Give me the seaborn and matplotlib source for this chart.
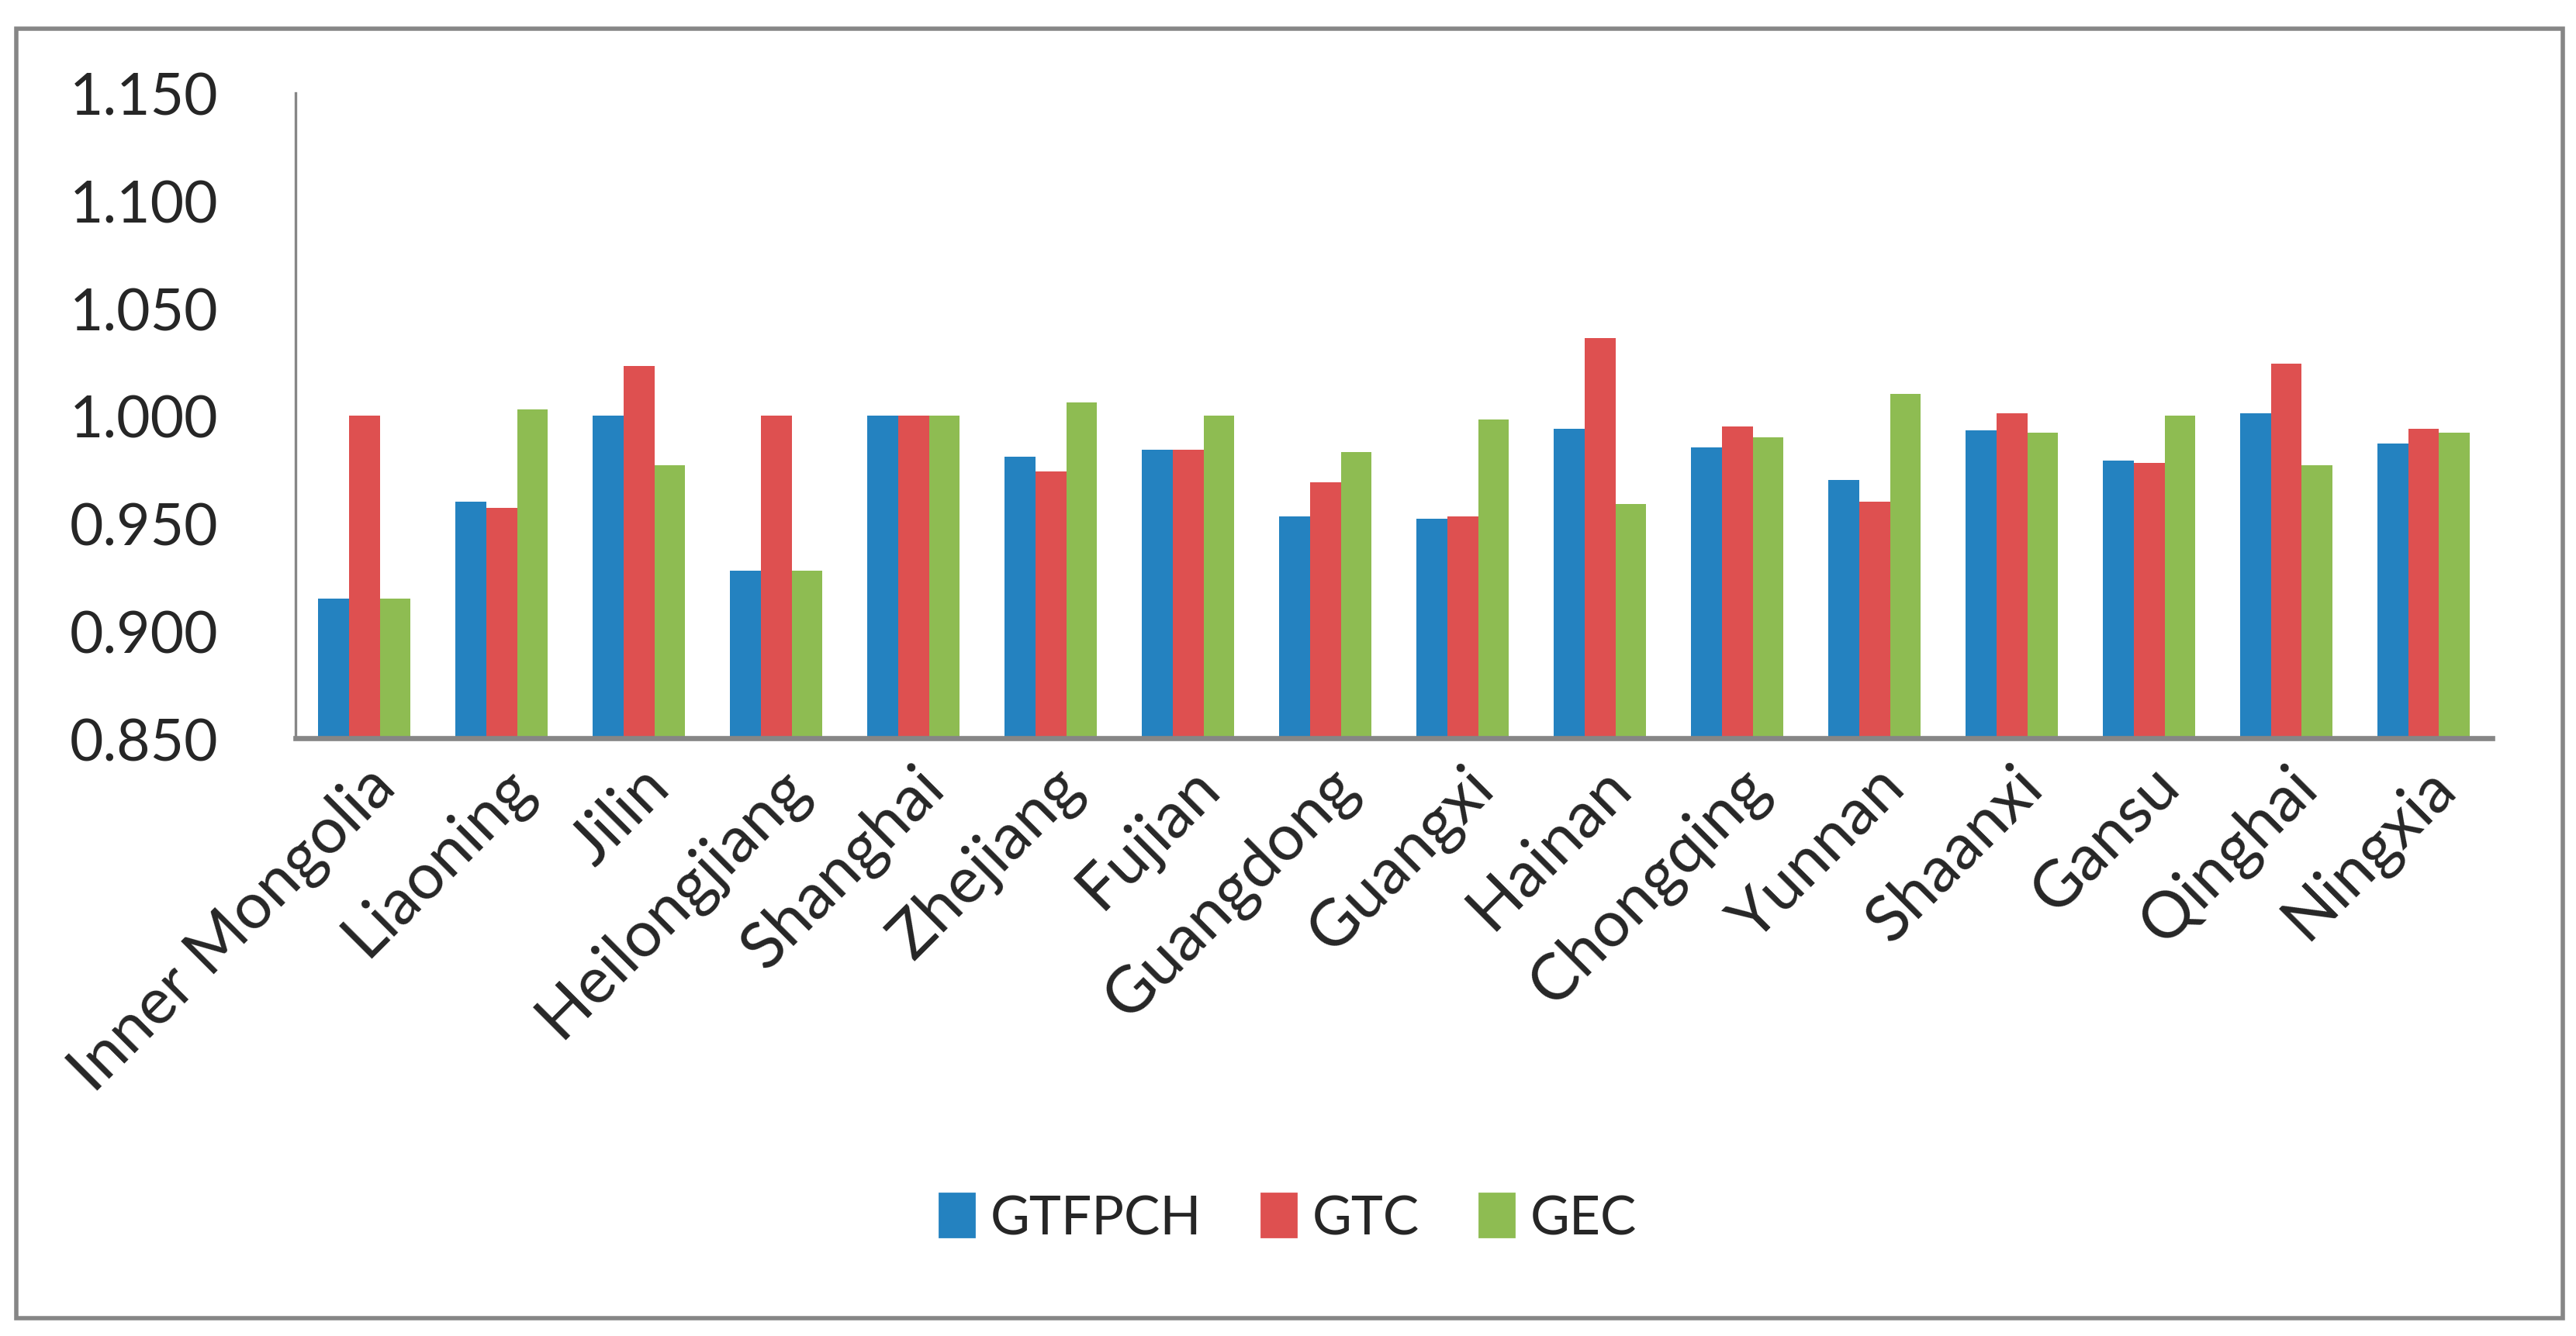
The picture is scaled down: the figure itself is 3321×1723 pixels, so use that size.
import matplotlib
matplotlib.use('Agg')
import matplotlib.pyplot as plt
import numpy as np
import pandas as pd
import seaborn as sns
from matplotlib.patches import Rectangle

provinces = ['Inner Mongolia', 'Liaoning', 'Jilin', 'Heilongjiang', 'Shanghai', 'Zhejiang',
             'Fujian', 'Guangdong', 'Guangxi', 'Hainan', 'Chongqing', 'Yunnan', 'Shaanxi',
             'Gansu', 'Qinghai', 'Ningxia']
gtfpch = [0.915, 0.960, 1.000, 0.928, 1.000, 0.981, 0.984, 0.953, 0.952, 0.994,
          0.985, 0.970, 0.993, 0.979, 1.001, 0.987]
gtc = [1.000, 0.957, 1.023, 1.000, 1.000, 0.974, 0.984, 0.969, 0.953, 1.036,
       0.995, 0.960, 1.001, 0.978, 1.024, 0.994]
gec = [0.915, 1.003, 0.977, 0.928, 1.000, 1.006, 1.000, 0.983, 0.998, 0.959,
       0.990, 1.010, 0.992, 1.000, 0.977, 0.992]
series = ['GTFPCH', 'GTC', 'GEC']
colors = ['#2482C0', '#DE5050', '#8EBC52']
yticks = [0.850, 0.900, 0.950, 1.000, 1.050, 1.100, 1.150]

df = pd.DataFrame({'province': provinces * 3,
                   'value': gtfpch + gtc + gec,
                   'index': np.repeat(series, len(provinces))})

sns.set_style('white')
plt.rcParams['font.family'] = ['Lato', 'DejaVu Sans']

fig = plt.figure(figsize=(16.605, 8.62), dpi=200)
ax = fig.add_axes([0.1148, 0.4472, 0.8527, 0.4828])

sns.barplot(data=df, x='province', y='value', hue='index', palette=colors,
            width=0.675, saturation=1, linewidth=0, ax=ax, legend=False)

ax.set_ylim(0.85, 1.15)
ax.set_xlim(-0.5, len(provinces) - 0.5)
ax.set_yticks(yticks)
ax.set_yticklabels([f'{v:.3f}' for v in yticks], fontsize=27)
ax.set_xticks(range(len(provinces)))
ax.set_xticklabels(provinces, fontsize=30, rotation=45, ha='right', rotation_mode='anchor')
ax.tick_params(axis='y', length=0, pad=36)
ax.tick_params(axis='x', length=0, pad=8)
ax.set_xlabel('')
ax.set_ylabel('')

for s in ['top', 'right']:
    ax.spines[s].set_visible(False)
ax.spines['left'].set_color('#868686')
ax.spines['left'].set_linewidth(1.2)
ax.spines['bottom'].set_color('#868686')
ax.spines['bottom'].set_linewidth(2.4)

handles = [Rectangle((0, 0), 1, 1, color=c) for c in colors]
fig.legend(handles, series, loc='center', bbox_to_anchor=(0.5, 0.088), ncol=3,
           frameon=False, fontsize=25, handlelength=0.65, handleheight=0.85,
           handletextpad=0.3, columnspacing=1.1)

fig.patches.append(Rectangle((0.0064, 0.0135), 0.9886, 0.9645, transform=fig.transFigure,
                             fill=False, ec='#868686', lw=2))

fig.savefig('out.png', dpi=200)
